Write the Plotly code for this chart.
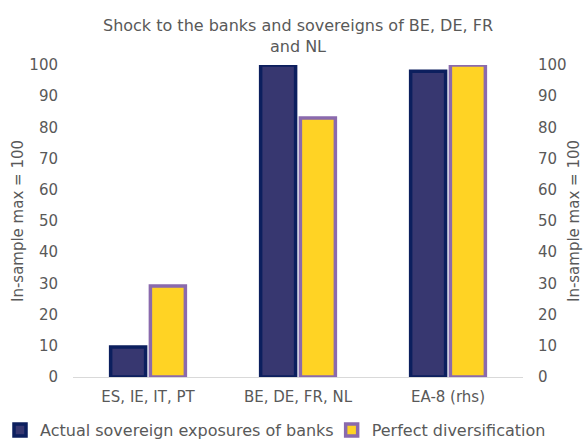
import plotly.graph_objects as go

categories = ["ES, IE, IT, PT", "BE, DE, FR, NL", "EA-8 (rhs)"]
actual = [9.6, 100, 98]
perfect = [29.2, 83, 100]
series_names = ["Actual sovereign exposures of banks", "Perfect diversification"]
tick_vals = [0, 10, 20, 30, 40, 50, 60, 70, 80, 90, 100]

FONT = "DejaVu Sans"
GREY = "#595959"

fig = go.Figure()
fig.add_trace(go.Bar(
    x=categories, y=actual, name=series_names[0], legend="legend",
    marker=dict(color="#373770", line=dict(color="#0c1f5e", width=3.5)),
))
fig.add_trace(go.Bar(
    x=categories, y=perfect, name=series_names[1], legend="legend2",
    marker=dict(color="#ffd324", line=dict(color="#8a6aad", width=3.5)),
))
# invisible trace to anchor the right axis
fig.add_trace(go.Scatter(
    x=categories, y=perfect, yaxis="y2", mode="none",
    showlegend=False, hoverinfo="skip",
))

axis_common = dict(
    range=[0, 100], tickvals=tick_vals, showgrid=False, zeroline=False,
    tickfont=dict(family=FONT, size=15, color=GREY),
    title=dict(text="In-sample max = 100", font=dict(family=FONT, size=15, color=GREY), standoff=2),
    showline=False, ticks="", ticklabelstandoff=14, automargin=False,
)

legend_common = dict(
    orientation="h", xanchor="left", xref="container",
    y=0.0, yanchor="bottom", yref="container",
    font=dict(family=FONT, size=16, color=GREY),
    itemwidth=30, bgcolor="rgba(0,0,0,0)",
)

fig.update_layout(
    width=587, height=447,
    paper_bgcolor="white", plot_bgcolor="white",
    margin=dict(l=73, r=64, t=65, b=70, autoexpand=False),
    barmode="group", bargap=0.47, bargroupgap=0.12,
    title=dict(
        text="Shock to the banks and sovereigns of BE, DE, FR<br>and NL",
        x=0.5, xref="paper", y=0.93, yanchor="top",
        font=dict(family=FONT, size=16, color=GREY),
    ),
    xaxis=dict(
        showgrid=False, zeroline=False, showline=True, linecolor="#d9d9d9", linewidth=1,
        tickfont=dict(family=FONT, size=15, color=GREY), ticks="", ticklabelstandoff=6,
        automargin=False,
    ),
    yaxis=axis_common,
    yaxis2=dict(axis_common, overlaying="y", side="right"),
    legend=dict(legend_common, x=0.0),
    legend2=dict(legend_common, x=0.565),
)

fig.write_html("out.html", config={"displayModeBar": False},
               post_script="document.body.style.margin='0px';")
